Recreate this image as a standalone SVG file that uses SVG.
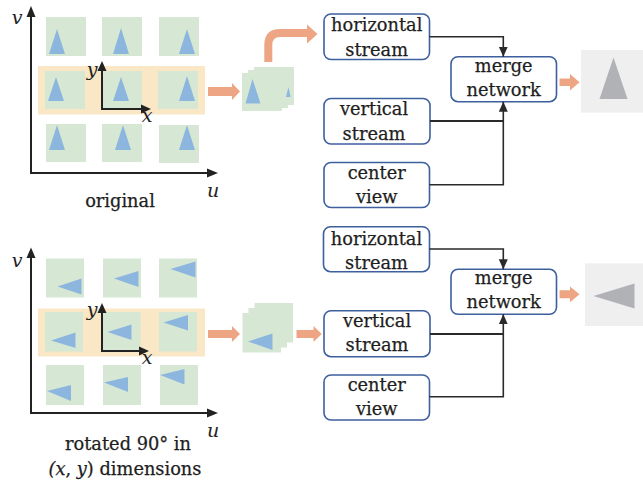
<svg xmlns="http://www.w3.org/2000/svg" width="643" height="483" viewBox="0 0 643 483">
  <style>
    .tile { fill: #d6e8d4; }
    .tri { fill: #8db6df; }
    .band { fill: #f9e7c5; }
    .axis { stroke: #222; stroke-width: 2; fill: none; }
    .head { fill: #222; }
    .lbl { font-family: "DejaVu Serif", "Liberation Serif", serif; font-size: 17.8px; fill: #1e1e1e; stroke: #1e1e1e; stroke-width: 0.25; text-anchor: middle; }
    .ital { font-family: "DejaVu Serif", "Liberation Serif", serif; font-style: italic; font-size: 19px; fill: #222; text-anchor: middle; }
    .box { fill: #fff; stroke: #3d5f9d; stroke-width: 1.6; }
    .conn { stroke: #2a2a2a; stroke-width: 1.6; fill: none; }
    .conn.bold { stroke-width: 2.2; }
    .fat { fill: #eea584; }
    .panel { fill: #efefef; }
    .gtri { fill: #b1b2b6; }
  </style>
  <defs>
    <marker id="ah" markerUnits="userSpaceOnUse" markerWidth="10" markerHeight="10" refX="10" refY="5" orient="auto">
      <path d="M0,0.5 L10,5 L0,9.5 Z" fill="#2a2a2a"/>
    </marker>
  </defs>

  <!-- ============ upper panel: original light field ============ -->
  <g id="grid-original">
    <rect class="band" x="38" y="66" width="167" height="48.5"/>
    <rect class="tile" x="46" y="17" width="40" height="39"/>
    <rect class="tile" x="102" y="17" width="40" height="39"/>
    <rect class="tile" x="159" y="17" width="40" height="39"/>
    <rect class="tile" x="45" y="71" width="40" height="38"/>
    <rect class="tile" x="102" y="71" width="40" height="38"/>
    <rect class="tile" x="158" y="71" width="40" height="38"/>
    <rect class="tile" x="46" y="124" width="40" height="38"/>
    <rect class="tile" x="102" y="124" width="40" height="38"/>
    <rect class="tile" x="159" y="125" width="40" height="38"/>
    <polygon class="tri" points="57,29 49,54 65,54"/>
    <polygon class="tri" points="121,28 113,54 129,54"/>
    <polygon class="tri" points="187,29 179,54 195,54"/>
    <polygon class="tri" points="56,77 48,101 64,101"/>
    <polygon class="tri" points="121,77 113,101 129,101"/>
    <polygon class="tri" points="187,76 179,101 195,101"/>
    <polygon class="tri" points="57,125 49,150 65,150"/>
    <polygon class="tri" points="123,125 115,150 131,150"/>
    <polygon class="tri" points="187,125 179,150 195,150"/>
    <!-- main u/v axes -->
    <path class="axis" d="M31,16 V173 H208"/>
    <polygon class="head" points="31,6 26.5,17 35.5,17"/>
    <polygon class="head" points="218,173 207,168.5 207,177.5"/>
    <!-- local x/y axes -->
    <path class="axis" d="M102,70 V109 H141"/>
    <polygon class="head" points="102,61 97.5,71 106.5,71"/>
    <polygon class="head" points="151,109 141,104.5 141,113.5"/>
    <text class="ital" x="17" y="24">v</text>
    <text class="ital" x="213" y="197">u</text>
    <text class="ital" x="92" y="76">y</text>
    <text class="ital" x="147" y="122">x</text>
    <text class="lbl" x="120" y="207">original</text>
  </g>

  <g id="stack-original">
    <rect class="tile" x="254" y="67" width="40" height="38"/>
    <rect class="tile" x="248" y="70" width="40" height="38"/>
    <polygon class="tri" points="288.5,87 286,97 290.5,97"/>
    <rect class="tile" x="242" y="73" width="40" height="38"/>
    <polygon class="tri" points="252.5,79 245.5,103.5 260.5,103.5"/>
  </g>

  <!-- ============ lower panel: rotated light field ============ -->
  <g id="grid-rotated">
    <rect class="band" x="38" y="308.5" width="167" height="48"/>
    <rect class="tile" x="46" y="258.5" width="38" height="39"/>
    <rect class="tile" x="103" y="258.5" width="38" height="39"/>
    <rect class="tile" x="159" y="258.5" width="38" height="39"/>
    <rect class="tile" x="45" y="312" width="38" height="39.5"/>
    <rect class="tile" x="102.5" y="312" width="38" height="39.5"/>
    <rect class="tile" x="159" y="312" width="38" height="39.5"/>
    <rect class="tile" x="46" y="365" width="38" height="40"/>
    <rect class="tile" x="103" y="365" width="38" height="40"/>
    <rect class="tile" x="160" y="365" width="38" height="40"/>
    <polygon class="tri" points="57.5,286.5 81.5,278.5 81.5,294.5"/>
    <polygon class="tri" points="114,278.5 138.5,271 138.5,287"/>
    <polygon class="tri" points="170.5,269 195.5,261.5 195.5,277.5"/>
    <polygon class="tri" points="51,340.5 75.5,332.5 75.5,348"/>
    <polygon class="tri" points="107.5,332 131.5,324.5 131.5,340"/>
    <polygon class="tri" points="163.5,322.5 188,315 188,330.5"/>
    <polygon class="tri" points="47,391 71,385 71,401"/>
    <polygon class="tri" points="104,382.5 128,377 128,392"/>
    <polygon class="tri" points="160,375 184.5,369 184.5,384.5"/>
    <path class="axis" d="M31,257 V413 H208"/>
    <polygon class="head" points="31,247.5 26.5,258 35.5,258"/>
    <polygon class="head" points="218,413 207,408.5 207,417.5"/>
    <path class="axis" d="M102,312 V351 H139"/>
    <polygon class="head" points="102,303 97.5,313 106.5,313"/>
    <polygon class="head" points="149,351 139,346.5 139,355.5"/>
    <text class="ital" x="17" y="267">v</text>
    <text class="ital" x="213" y="437">u</text>
    <text class="ital" x="92" y="316">y</text>
    <text class="ital" x="147" y="364">x</text>
    <text class="lbl" x="128" y="450">rotated 90° in</text>
    <text class="lbl" x="125" y="475"><tspan font-style="italic">(x</tspan>, <tspan font-style="italic">y</tspan>) dimensions</text>
  </g>

  <g id="stack-rotated">
    <rect class="tile" x="254.5" y="303" width="38.5" height="39.5"/>
    <rect class="tile" x="248.5" y="308" width="38.5" height="39.5"/>
    <rect class="tile" x="242.5" y="313" width="38.5" height="39.5"/>
    <polygon class="tri" points="248,341.5 272.5,333.5 272.5,350"/>
  </g>

  <!-- ============ processing boxes, upper branch ============ -->
  <g id="h-stream-1">
    <rect class="box" x="324" y="14" width="105.5" height="45.5" rx="7"/>
    <text class="lbl" x="376.7" y="31">horizontal</text>
    <text class="lbl" x="376.7" y="55.5">stream</text>
  </g>
  <g id="v-stream-1">
    <rect class="box" x="324" y="98.5" width="106" height="45.5" rx="7"/>
    <text class="lbl" x="374" y="115">vertical</text>
    <text class="lbl" x="374" y="139.5">stream</text>
  </g>
  <g id="center-1">
    <rect class="box" x="324" y="162.5" width="105.5" height="45" rx="7"/>
    <text class="lbl" x="376.7" y="178.5">center</text>
    <text class="lbl" x="376.7" y="202.5">view</text>
  </g>
  <g id="merge-1">
    <rect class="box" x="451" y="56.7" width="105.5" height="45" rx="7"/>
    <text class="lbl" x="503.7" y="72">merge</text>
    <text class="lbl" x="503.7" y="96">network</text>
  </g>
  <g id="output-1">
    <rect class="panel" x="581" y="50" width="62" height="62.7"/>
    <polygon class="gtri" points="613.5,57.5 599.5,99 627.5,99"/>
  </g>

  <!-- ============ processing boxes, lower branch ============ -->
  <g id="h-stream-2">
    <rect class="box" x="323.5" y="226.7" width="106" height="45" rx="7"/>
    <text class="lbl" x="376.5" y="245">horizontal</text>
    <text class="lbl" x="376.5" y="269">stream</text>
  </g>
  <g id="v-stream-2">
    <rect class="box" x="324" y="310.7" width="106" height="46" rx="7"/>
    <text class="lbl" x="377" y="327">vertical</text>
    <text class="lbl" x="377" y="351">stream</text>
  </g>
  <g id="center-2">
    <rect class="box" x="324" y="375" width="105.5" height="45" rx="7"/>
    <text class="lbl" x="376.7" y="391">center</text>
    <text class="lbl" x="376.7" y="415">view</text>
  </g>
  <g id="merge-2">
    <rect class="box" x="451" y="269.3" width="105.5" height="45" rx="7"/>
    <text class="lbl" x="503.7" y="284">merge</text>
    <text class="lbl" x="503.7" y="308">network</text>
  </g>
  <g id="output-2">
    <rect class="panel" x="585" y="263.3" width="58" height="62.7"/>
    <polygon class="gtri" points="593.5,296 634.5,283.5 634.5,308.5"/>
  </g>

  <!-- ============ connectors ============ -->
  <g id="connectors">
    <path class="conn" d="M429.5,36.7 H503.3 V56.7" marker-end="url(#ah)"/>
    <path class="conn bold" d="M430,121 H503.3"/>
    <path class="conn" d="M429.5,184.7 H503.3 V101.7" marker-end="url(#ah)"/>

    <path class="conn" d="M429.5,249 H503.3 V269.3" marker-end="url(#ah)"/>
    <path class="conn bold" d="M430,334 H503.3"/>
    <path class="conn" d="M429.5,396.7 H503.3 V314.3" marker-end="url(#ah)"/>

    <!-- wide orange flow arrows -->
    <polygon class="fat" points="208,87 232,87 232,83 240,91.5 232,100 232,96 208,96"/>
    <path d="M268.3,62 V45 Q268.3,33 280,33 H308" fill="none" stroke="#eea584" stroke-width="8"/>
    <polygon class="fat" points="307,24.5 317.5,34 307,43.5"/>
    <polygon class="fat" points="559.5,78.5 570,78.5 570,74 579.5,82.3 570,90.5 570,86 559.5,86"/>

    <polygon class="fat" points="208,330 232,330 232,326 240,334 232,342 232,338 208,338"/>
    <polygon class="fat" points="296.5,330 313.5,330 313.5,326 321.7,334 313.5,342 313.5,338 296.5,338"/>
    <polygon class="fat" points="559.5,290.3 570,290.3 570,286.5 579.5,294.3 570,302.3 570,298.3 559.5,298.3"/>
  </g>
</svg>
